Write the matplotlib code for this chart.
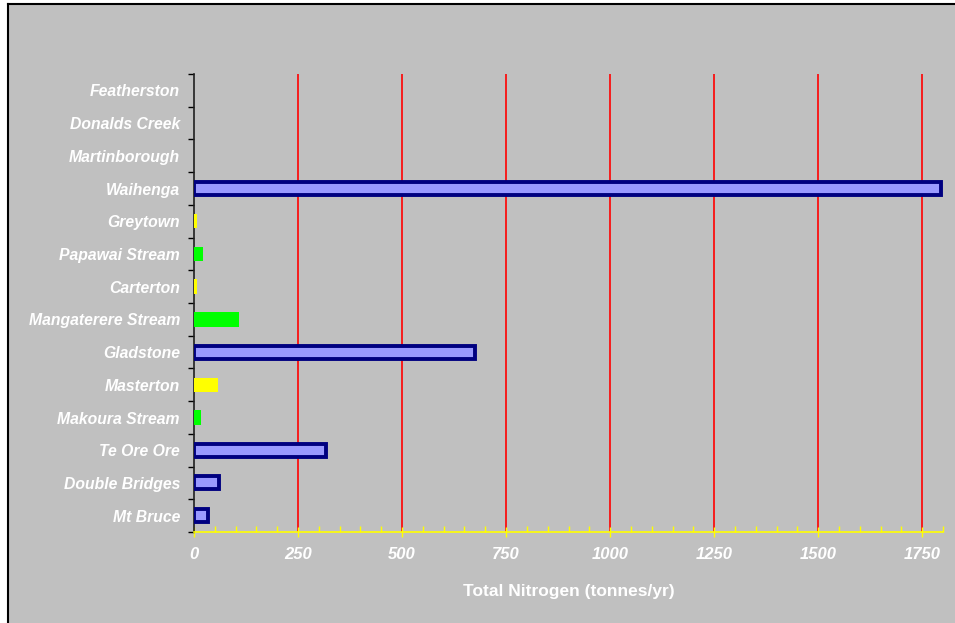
import matplotlib
matplotlib.use("Agg")
import matplotlib.pyplot as plt
from matplotlib.patches import Rectangle
from matplotlib.lines import Line2D
from matplotlib.ticker import MultipleLocator

# bottom to top
sites = ["Mt Bruce", "Double Bridges", "Te Ore Ore", "Makoura Stream", "Masterton",
         "Gladstone", "Mangaterere Stream", "Carterton", "Papawai Stream", "Greytown",
         "Waihenga", "Martinborough", "Donalds Creek", "Featherston"]
nitrogen = [33, 60, 317, 17, 58, 675, 108, 8, 22, 8, 1795, 0, 0, 0]
site_type = ["river", "river", "river", "stream", "town",
             "river", "stream", "town", "stream", "town",
             "river", "town", "stream", "town"]
x_ticks = [0, 250, 500, 750, 1000, 1250, 1500, 1750]
x_label = "Total Nitrogen (tonnes/yr)"

fill = {"river": "#9999FF", "stream": "#00FF00", "town": "#FFFF00"}
edge = {"river": "#000080", "stream": "none", "town": "none"}
lw = {"river": 2.8, "stream": 0, "town": 0}
hgt = {"river": 0.40, "stream": 0.44, "town": 0.44}

W, H = 955, 623
fig = plt.figure(figsize=(W / 100, H / 100), dpi=100, facecolor="white")
bg = "#C0C0C0"
fig.add_artist(Rectangle((8 / W, 0), 1, 1 - 4 / H, transform=fig.transFigure,
                         facecolor=bg, edgecolor="none", zorder=-5))
fig.add_artist(Line2D([8 / W, 8 / W], [0, 1 - 4 / H], transform=fig.transFigure,
                      color="black", linewidth=1.5, zorder=-4))
fig.add_artist(Line2D([8 / W, 1], [1 - 4 / H, 1 - 4 / H], transform=fig.transFigure,
                      color="black", linewidth=1.5, zorder=-4))

ax = fig.add_axes([194 / W, 1 - 532 / H, (943 - 194) / W, (532 - 74) / H])
ax.set_facecolor(bg)
ax.set_zorder(1)

ypos = list(range(len(sites)))
for y, v, t in zip(ypos, nitrogen, site_type):
    ax.barh(y, v, height=hgt[t], color=fill[t], edgecolor=edge[t], linewidth=lw[t], zorder=3)

ax.set_xlim(0, 1800)
ax.set_ylim(-0.5, len(sites) - 0.5)

for x in x_ticks[1:]:
    ax.axvline(x, color="#FF0000", linewidth=1.2, zorder=1)

for s in ["top", "right"]:
    ax.spines[s].set_visible(False)
ax.spines["left"].set_color("#202020")
ax.spines["left"].set_linewidth(1.2)
ax.spines["left"].set_zorder(2)
ax.spines["bottom"].set_color("#FFFF00")
ax.spines["bottom"].set_linewidth(1.2)

ax.set_xticks(x_ticks)
ax.xaxis.set_minor_locator(MultipleLocator(50))
ax.tick_params(axis="x", which="major", direction="inout", length=7, width=1, color="#FFFF00",
               pad=7)
ax.tick_params(axis="x", which="minor", direction="in", length=4, width=1, color="#FFFF00")
ax.set_xticklabels([str(v) for v in x_ticks], fontfamily="Liberation Sans", fontweight="bold",
                   fontstyle="italic", fontsize=12, color="white")

ax.set_yticks([y - 0.5 for y in ypos] + [len(sites) - 0.5])
ax.set_yticklabels([])
ax.tick_params(axis="y", which="major", direction="out", length=4, width=1, color="black")
for y, name in zip(ypos, sites):
    ax.text(-14 / 0.416, y - 0.05, name, ha="right", va="center", fontfamily="Liberation Sans",
            fontweight="bold", fontstyle="italic", fontsize=11.3, color="white")

ax.set_xlabel(x_label, fontfamily="Liberation Sans", fontweight="bold", fontsize=12.5,
              color="white", labelpad=16)

fig.savefig("out.png", dpi=100, facecolor=fig.get_facecolor())
